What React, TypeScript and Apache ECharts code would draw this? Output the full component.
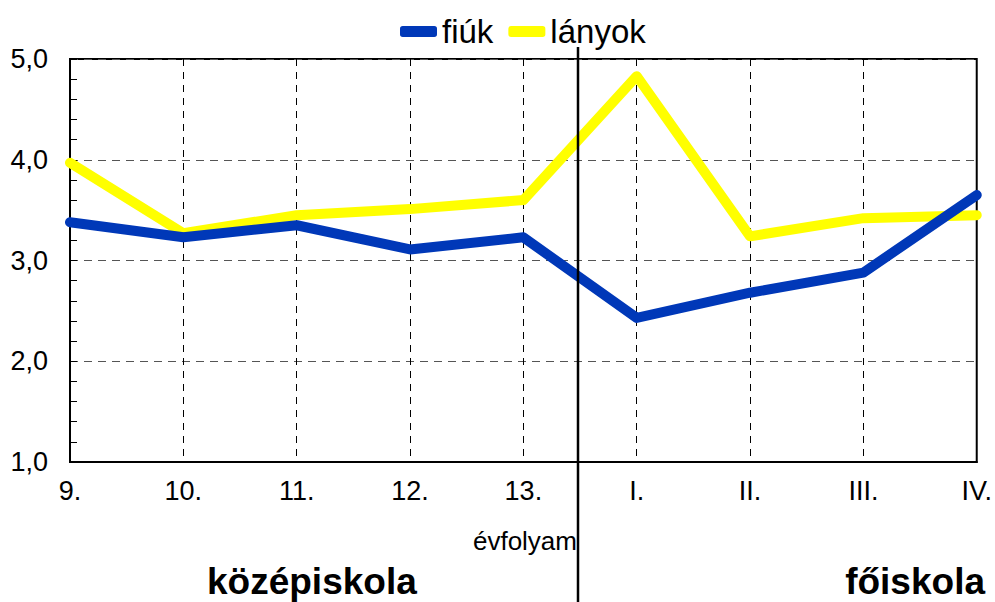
import React, { useEffect, useRef } from "react";
import * as echarts from "echarts";

const categories = ["9.", "10.", "11.", "12.", "13.", "I.", "II.", "III.", "IV."];
const fiuk = [3.38, 3.23, 3.35, 3.11, 3.23, 2.43, 2.68, 2.88, 3.65];
const lanyok = [3.97, 3.27, 3.45, 3.51, 3.6, 4.83, 3.24, 3.42, 3.45];
const seriesNames = ["fiúk", "lányok"];
const bottomLabels = ["évfolyam", "középiskola", "főiskola"];

const FONT = "Arial, 'Liberation Sans', sans-serif";

export default function App() {
  const ref = useRef<HTMLDivElement>(null);
  useEffect(() => {
    if (!ref.current) return;
    const chart = echarts.init(ref.current, undefined, { renderer: "svg" });
    chart.setOption({
      animation: false,
      backgroundColor: "#fff",
      textStyle: { fontFamily: FONT },
      legend: {
        left: 395,
        top: 10,
        itemWidth: 37,
        itemHeight: 11,
        itemGap: 15,
        icon: "roundRect",
        textStyle: { fontSize: 33, color: "#000", fontFamily: FONT },
        data: seriesNames,
      },
      grid: {
        left: 70,
        right: 17,
        top: 59,
        bottom: 140,
        show: true,
        borderColor: "#000",
        borderWidth: 2,
      },
      xAxis: {
        type: "category",
        data: categories,
        boundaryGap: false,
        axisLine: { lineStyle: { color: "#000", width: 2 } },
        axisTick: { show: false },
        axisLabel: { fontSize: 27, color: "#000", margin: 15, fontFamily: FONT },
        splitLine: { show: true, lineStyle: { color: "#000", type: [7, 6], width: 1 } },
      },
      yAxis: {
        type: "value",
        min: 1,
        max: 5,
        interval: 1,
        axisLine: { show: true, lineStyle: { color: "#000", width: 2 } },
        axisTick: { show: true, inside: true, length: 7, lineStyle: { color: "#000" } },
        minorTick: { show: true, splitNumber: 5, length: 7, lineStyle: { color: "#000" } },
        axisLabel: {
          fontSize: 27,
          color: "#000",
          margin: 22,
          fontFamily: FONT,
          formatter: (v: number) => v.toFixed(1).replace(".", ","),
        },
        splitLine: { show: true, lineStyle: { color: "#555", type: [8, 6], width: 1 } },
      },
      series: [
        {
          name: seriesNames[0],
          type: "line",
          data: fiuk,
          z: 4,
          showSymbol: false,
          symbol: "none",
          itemStyle: { color: "#0038B8" },
          lineStyle: { color: "#0038B8", width: 10, cap: "round", join: "round" },
        },
        {
          name: seriesNames[1],
          type: "line",
          data: lanyok,
          z: 3,
          showSymbol: false,
          symbol: "none",
          itemStyle: { color: "#FFFF00" },
          lineStyle: { color: "#FFFF00", width: 10, cap: "round", join: "round" },
        },
      ],
      graphic: [
        {
          type: "line",
          z: 10,
          shape: { x1: 578, y1: 47, x2: 578, y2: 602 },
          style: { stroke: "#000", lineWidth: 2.5 },
        },
        {
          type: "text",
          x: 577,
          y: 541,
          style: {
            text: bottomLabels[0],
            fontSize: 26,
            fill: "#000",
            fontFamily: FONT,
            align: "right",
            verticalAlign: "middle",
          },
        },
        {
          type: "text",
          x: 207,
          y: 581,
          style: {
            text: bottomLabels[1],
            fontSize: 37,
            fontWeight: "bold",
            fill: "#000",
            fontFamily: FONT,
            align: "left",
            verticalAlign: "middle",
          },
        },
        {
          type: "text",
          x: 985,
          y: 581,
          style: {
            text: bottomLabels[2],
            fontSize: 37,
            fontWeight: "bold",
            fill: "#000",
            fontFamily: FONT,
            align: "right",
            verticalAlign: "middle",
          },
        },
      ],
    });
    return () => chart.dispose();
  }, []);
  return (
    <div
      ref={ref}
      style={{ position: "absolute", left: 0, top: 0, width: 995, height: 602 }}
    />
  );
}
